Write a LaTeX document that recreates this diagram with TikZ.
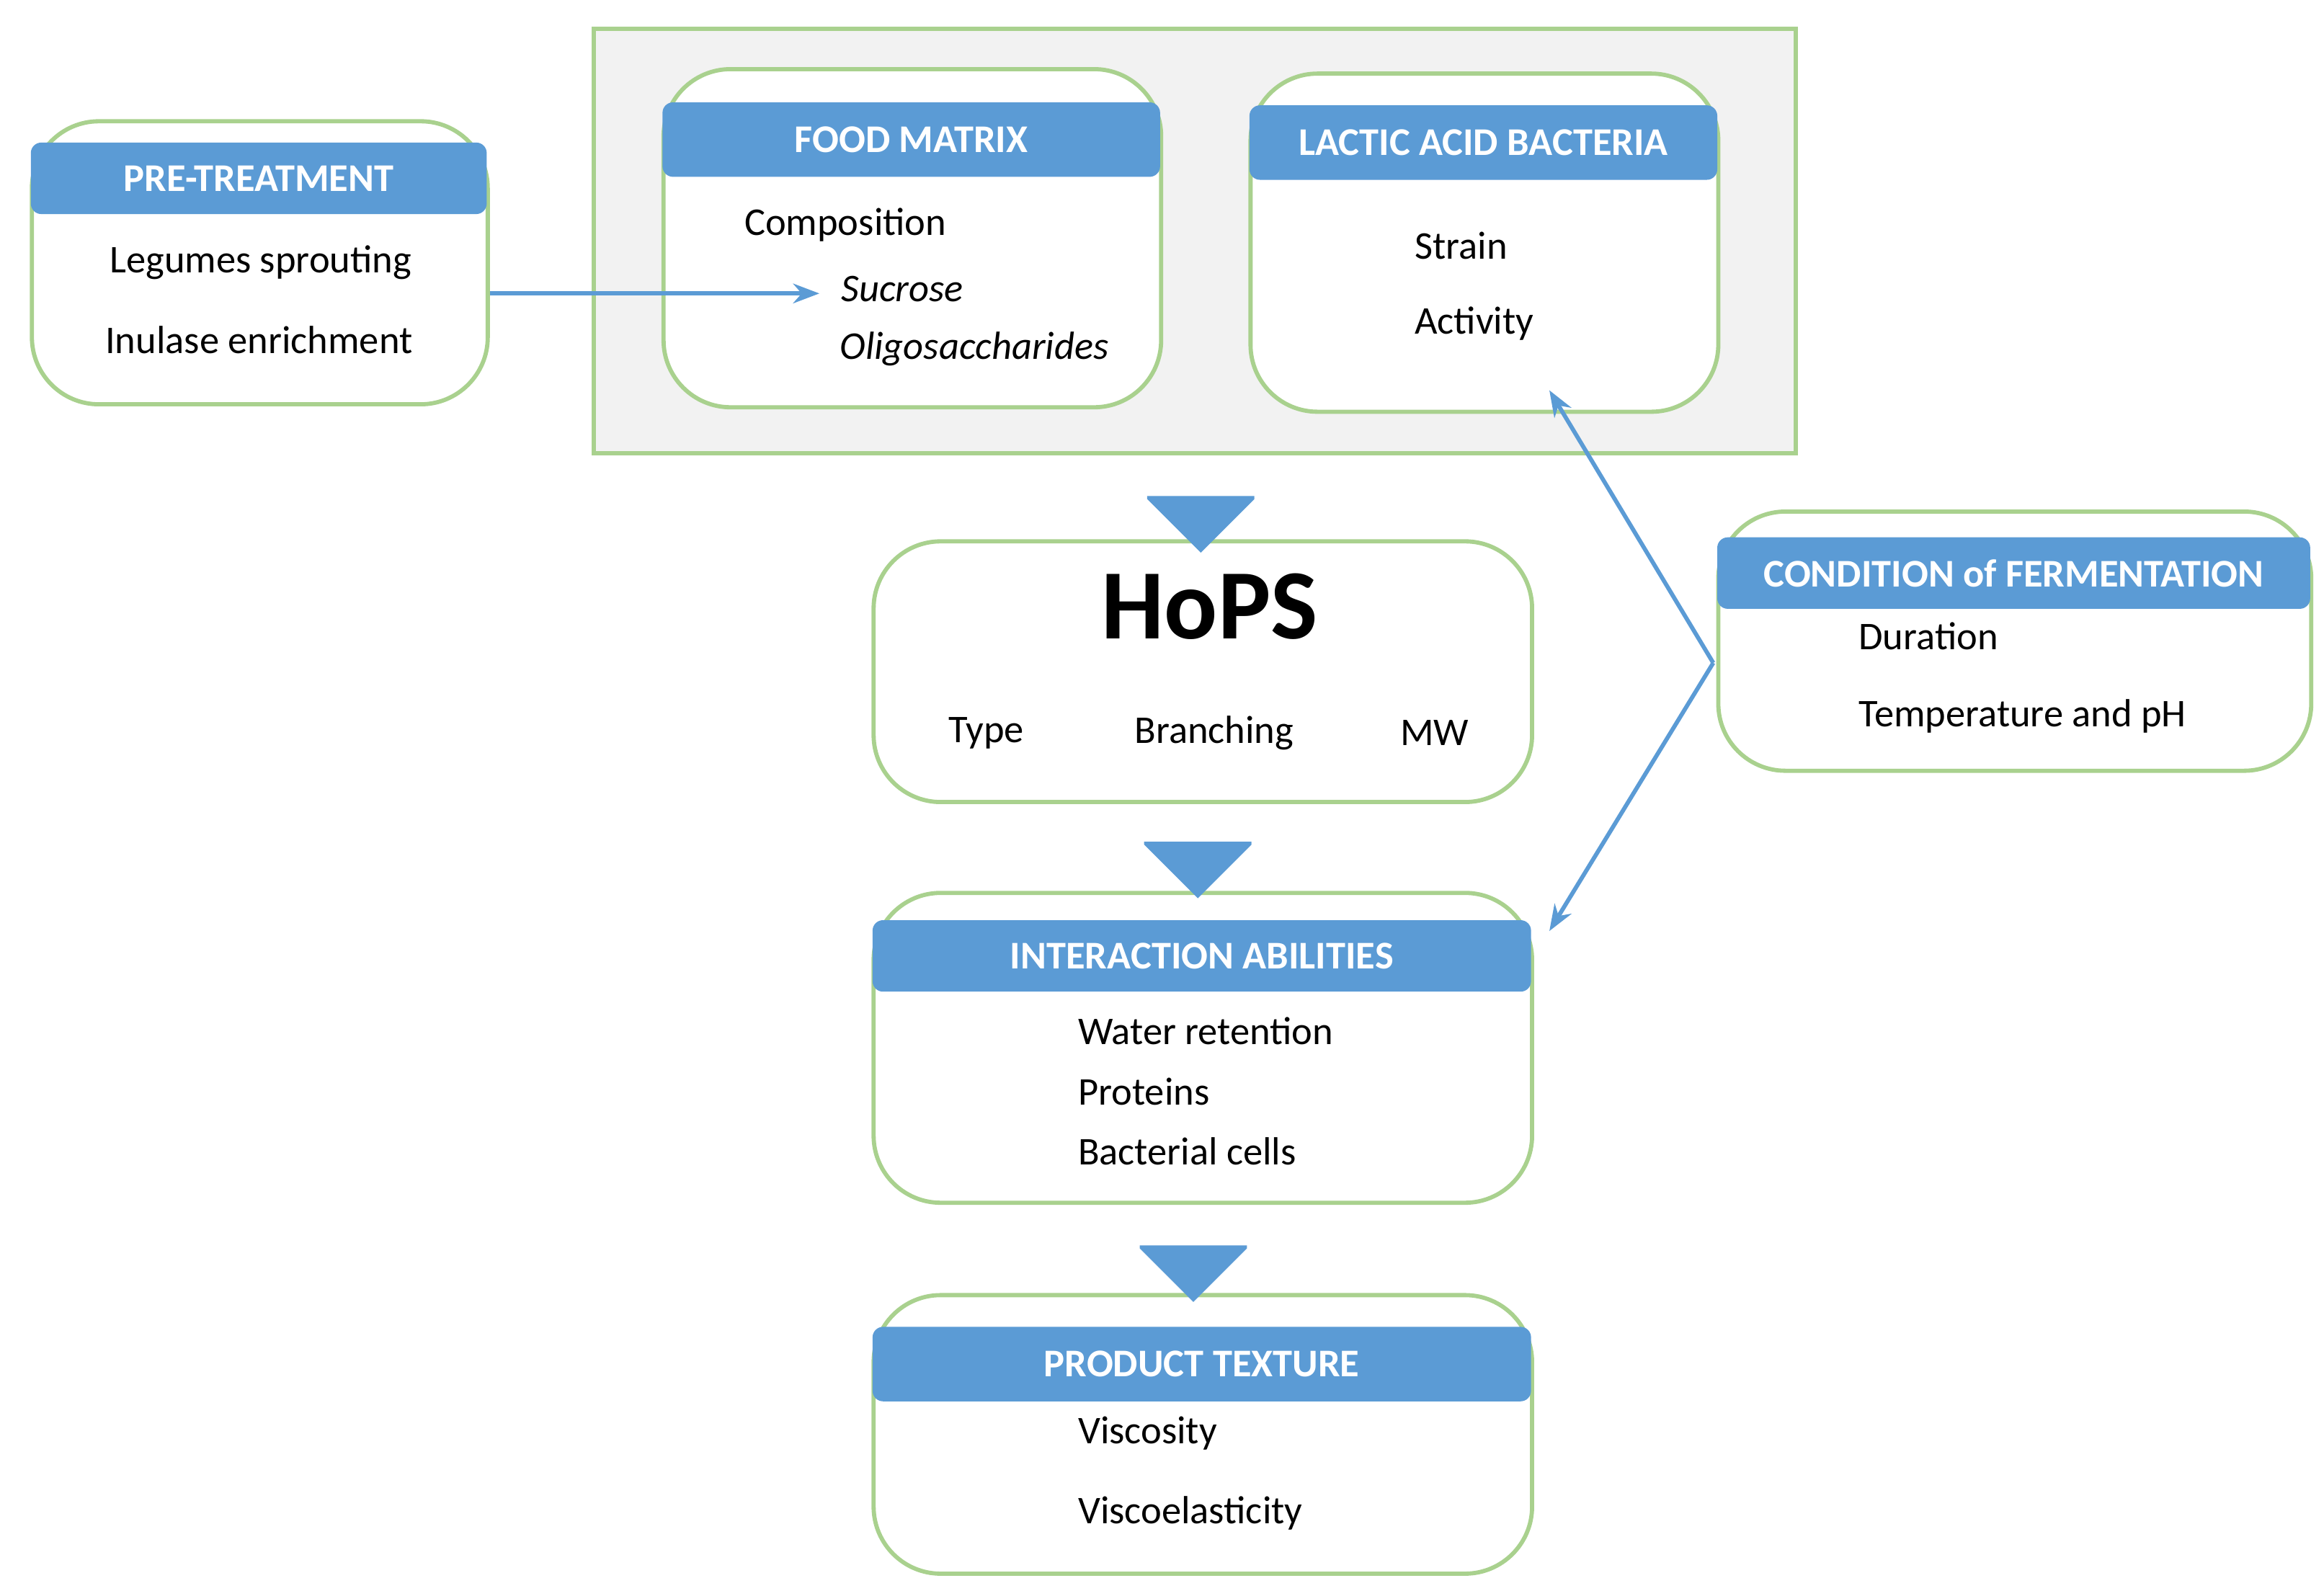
\documentclass[tikz,border=0pt]{standalone}
\usepackage{fontspec}
\setmainfont{Carlito}
\usetikzlibrary{positioning,arrows.meta,shapes.arrows}
\definecolor{hdrblue}{RGB}{91,155,213}
\definecolor{boxgreen}{RGB}{169,209,142}
\definecolor{bggrey}{RGB}{242,242,242}

\begin{document}
\begin{tikzpicture}[
  panel/.style={rectangle, draw=boxgreen, thick, rounded corners=0.45cm, anchor=north west, inner sep=0pt},
  header/.style={rectangle, fill=hdrblue, rounded corners=2pt, text=white, font=\fontsize{7.5}{9}\selectfont\bfseries, anchor=north west, inner sep=0pt},
  item/.style={anchor=west, font=\fontsize{7.5}{9}\selectfont, inner sep=0pt},
  flow/.style={single arrow, fill=hdrblue, draw=none, rotate=-90, minimum height=0.38cm, minimum width=0.72cm, single arrow head extend=0pt, inner sep=0pt, shape border uses incircle=false},
  link/.style={-{Stealth[length=5pt]}, hdrblue, thick}
]
  \useasboundingbox (0,0) rectangle (15.6,-10.68);

  % Background group
  \node[rectangle, draw=boxgreen, fill=bggrey, thick, anchor=north west, minimum width=8.07cm, minimum height=2.85cm] (group) at (3.97,-0.18) {};

  % Pre-treatment
  \node[panel, minimum width=3.06cm, minimum height=1.9cm, fill=white] (pre) at (0.2,-0.8) {};
  \node[header, minimum width=3.06cm, minimum height=0.48cm] (prehead) at (0.2,-0.95) {PRE-TREATMENT};
  \node[item] (sprout) at (0.73,-1.76) {Legumes sprouting};
  \node[item] (inulase) at (0.7,-2.28) {Inulase enrichment};

  % Food matrix
  \node[panel, minimum width=3.34cm, minimum height=2.27cm, fill=white] (food) at (4.44,-0.45) {};
  \node[header, minimum width=3.34cm, minimum height=0.5cm] (foodhead) at (4.44,-0.68) {FOOD MATRIX};
  \node[item] (comp) at (4.99,-1.51) {Composition};
  \node[item] (sucrose) at (5.64,-1.94) {\itshape Sucrose};
  \coordinate (sucin) at (5.5,-1.97);
  \node[item] (oligo) at (5.63,-2.34) {\itshape Oligosaccharides};

  % Lactic acid bacteria
  \node[panel, minimum width=3.14cm, minimum height=2.27cm, fill=white] (lab) at (8.38,-0.48) {};
  \node[header, minimum width=3.14cm, minimum height=0.5cm] (labhead) at (8.38,-0.7) {LACTIC ACID BACTERIA};
  \node[item] (strain) at (9.49,-1.65) {Strain};
  \node[item] (activity) at (9.49,-2.17) {Activity};
  \coordinate (labin) at (10.4,-2.62);

  % HoPS
  \node[panel, minimum width=4.42cm, minimum height=1.75cm] (hops) at (5.85,-3.62) {};
  \node[font=\fontsize{19}{22}\selectfont\bfseries] (hopstitle) at (8.12,-4.07) {HoPS};
  \node[item, anchor=center] (type) at (6.62,-4.92) {Type};
  \node[item, anchor=center] (branch) at (8.15,-4.92) {Branching};
  \node[item, anchor=center] (mw) at (9.63,-4.92) {MW};

  % Interaction abilities
  \node[panel, minimum width=4.42cm, minimum height=2.08cm] (inter) at (5.85,-5.98) {};
  \node[header, minimum width=4.42cm, minimum height=0.48cm] (interhead) at (5.85,-6.17) {INTERACTION ABILITIES};
  \node[item] (water) at (7.23,-6.92) {Water retention};
  \node[item] (prot) at (7.23,-7.33) {Proteins};
  \node[item] (cells) at (7.23,-7.73) {Bacterial cells};
  \coordinate (interin) at (10.4,-6.25);

  % Product texture
  \node[panel, minimum width=4.42cm, minimum height=1.87cm] (prod) at (5.85,-8.68) {};
  \node[header, minimum width=4.42cm, minimum height=0.5cm] (prodhead) at (5.85,-8.9) {PRODUCT TEXTURE};
  \node[item] (visc) at (7.23,-9.62) {Viscosity};
  \node[item] (viscoel) at (7.23,-10.16) {Viscoelasticity};

  % Condition of fermentation
  \node[panel, minimum width=3.98cm, minimum height=1.74cm] (cond) at (11.52,-3.42) {};
  \node[header, minimum width=3.98cm, minimum height=0.48cm] (condhead) at (11.52,-3.6) {CONDITION of FERMENTATION};
  \node[item] (dur) at (12.47,-4.27) {Duration};
  \node[item] (temp) at (12.47,-4.81) {Temperature and pH};
  \coordinate (condout) at (11.5,-4.45);

  % Flow arrows
  \node[flow] (f1) at (8.06,-3.34) {};
  \node[flow] (f2) at (8.04,-5.66) {};
  \node[flow] (f3) at (8.01,-8.37) {};

  % Links
  \draw[link] (pre.east |- sucin) -- (sucin);
  \draw[link] (condout) -- (labin);
  \draw[link] (condout) -- (interin);
\end{tikzpicture}
\end{document}
